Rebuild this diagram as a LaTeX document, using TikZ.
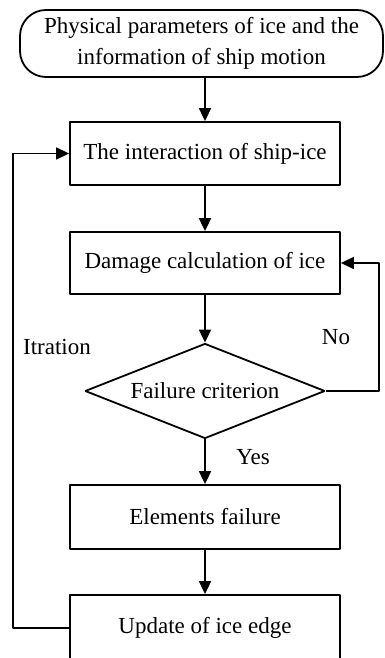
\documentclass[tikz,border=0pt]{standalone}
\usepackage{fontspec}
\setmainfont{Liberation Serif}
\usetikzlibrary{arrows.meta,shapes.geometric}
\begin{document}
\begin{tikzpicture}[>={Triangle[length=13pt,width=12pt]},line join=bevel,
  every node/.style={font=\fontsize{23}{31}\selectfont},
  procbox/.style={draw,line width=1.8pt,minimum width=270pt,minimum height=63pt,inner sep=0pt},
  link/.style={line width=1.8pt,->},
  ]
%%
\useasboundingbox (0pt,0pt) rectangle (385pt,658pt);
\node (node_start) at (201.5pt,614.5pt) [draw,line width=1.8pt,rounded corners=26pt,minimum width=363pt,minimum height=67pt,inner sep=0pt,align=center] {Physical parameters of ice and the\\information of ship motion};
  \node (node_inter) at (205pt,504.5pt) [procbox] {The interaction of ship-ice};
  \node (node_damage) at (205pt,395pt) [procbox,minimum height=62pt] {Damage calculation of ice};
  \node (node_crit) at (205pt,267pt) [draw,line width=1.8pt,diamond,aspect=2.5,minimum width=240pt,minimum height=95pt,inner sep=0pt] {Failure criterion};
  \node (node_elem) at (205pt,141pt) [procbox,minimum height=64pt] {Elements failure};
  \node (node_update) at (205pt,30pt) [procbox,minimum height=66pt] {Update of ice edge};
  \coordinate (left_turn) at (13pt,30pt);
  \coordinate (left_top) at (13pt,504.5pt);
  \coordinate (right_turn) at (379pt,267pt);
  \coordinate (right_top) at (379pt,395pt);
  \node (lbl_no) at (336pt,321pt) {No};
  \node (lbl_iter) at (57pt,311pt) {Itration};
  \node (lbl_yes) at (253pt,201pt) {Yes};
  \draw [link] (node_start.south -| node_inter.north) -- (node_inter);
  \draw [link] (node_inter) -- (node_damage);
  \draw [link] (node_damage) -- (node_crit);
  \draw [link] (node_crit) -- (node_elem);
  \draw [link] (node_elem) -- (node_update);
  \draw [link,line width=1.4pt] (node_crit.east) -- (right_turn) -- (right_top) -- (node_damage.east);
  \draw [link,line width=1.4pt] (node_update.west) -- (left_turn) -- (left_top) -- (node_inter.west);
%
\end{tikzpicture}
\end{document}
